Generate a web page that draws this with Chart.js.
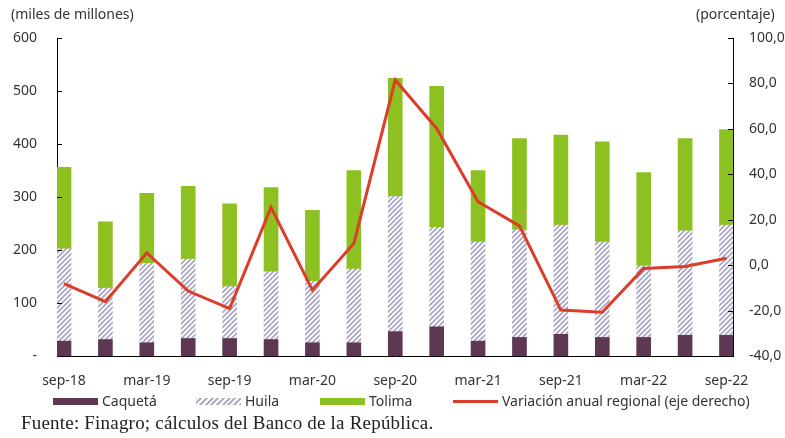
<!DOCTYPE html>
<html>
<head>
<meta charset="utf-8">
<script src="https://cdn.jsdelivr.net/npm/chart.js@4"></script>
<style>
  body { margin: 0; background: #fff; }
  #wrap { position: relative; width: 785px; height: 438px; font-family: "Noto Sans", sans-serif; color: #333; }
  .note { position: absolute; font-size: 14px; line-height: 18px; white-space: nowrap; }
  .leg { position: absolute; top: 392px; font-size: 14px; line-height: 18px; white-space: nowrap; display: flex; align-items: center; }
  .sw { display: inline-block; width: 45px; height: 7px; margin-right: 4px; }
  #foot { position: absolute; left: 21px; top: 412px; font-family: "Liberation Serif", serif; font-size: 19px; letter-spacing: 0.2px; color: #222; white-space: nowrap; }
</style>
</head>
<body>
<div id="wrap">
  <canvas id="chart" width="785" height="438"></canvas>
  <div class="note" style="left:11px; top:5px;">(miles de millones)</div>
  <div class="note" style="left:696px; top:5px;">(porcentaje)</div>
  <div class="leg" style="left:53px;"><span class="sw" style="background:#5e3752"></span>Caquetá</div>
  <div class="leg" style="left:196px;"><span class="sw" style="background:repeating-linear-gradient(-45deg,#b0adc6 0 2px,#fff 2px 4px)"></span>Huila</div>
  <div class="leg" style="left:320px;"><span class="sw" style="background:#8dc021"></span>Tolima</div>
  <div class="leg" style="left:453px;"><span class="sw" style="background:none;height:3px;background:#dc3c2a"></span>Variación anual regional (eje derecho)</div>
  <div id="foot">Fuente: Finagro; cálculos del Banco de la República.</div>
</div>
<script>
// Trimestres
const categories = ['sep-18', 'dic-18', 'mar-19', 'jun-19', 'sep-19', 'dic-19', 'mar-20', 'jun-20', 'sep-20',
    'dic-20', 'mar-21', 'jun-21', 'sep-21', 'dic-21', 'mar-22', 'jun-22', 'sep-22'];

// miles de millones
const caqueta = [28, 31, 25, 33, 33, 31, 25, 25, 46, 55, 28, 35, 41, 35, 35, 39, 39];
const huila = [174, 97, 150, 150, 98, 128, 116, 139, 255, 188, 187, 203, 206, 180, 135, 197, 208];
const tolima = [154, 125, 132, 137, 156, 159, 134, 186, 223, 266, 135, 172, 170, 189, 176, 174, 180];

// variación anual regional (%), eje derecho
const variacion = [-8.1, -16.1, 5.4, -11.4, -19.1, 25.4, -11, 9.5, 81.5, 60.2, 27.9, 17.3, -19.8, -20.7, -1.5, -0.6, 3];

const leftTicks = [0, 100, 200, 300, 400, 500, 600];

function makeHatch() {
    const c = document.createElement('canvas');
    c.width = 5; c.height = 5;
    const g = c.getContext('2d');
    g.fillStyle = '#fff';
    g.fillRect(0, 0, 5, 5);
    g.strokeStyle = '#aaa7c3';
    g.lineWidth = 1.8;
    g.beginPath();
    g.moveTo(-1, 6); g.lineTo(6, -1);
    g.moveTo(-1, 1); g.lineTo(1, -1);
    g.moveTo(4, 6); g.lineTo(6, 4);
    g.stroke();
    return g.createPattern(c, 'repeat');
}

const toPoints = arr => arr.map((v, i) => ({ x: i, y: v }));

// marcas de los ejes hacia adentro
const innerTicks = {
    id: 'innerTicks',
    afterDraw(chart) {
        const ctx = chart.ctx;
        const area = chart.chartArea;
        ctx.save();
        ctx.strokeStyle = '#000';
        ctx.lineWidth = 1;
        chart.scales.y.ticks.forEach(t => {
            const py = Math.round(chart.scales.y.getPixelForValue(t.value)) + 0.5;
            ctx.beginPath(); ctx.moveTo(area.left, py); ctx.lineTo(area.left + 5, py); ctx.stroke();
        });
        chart.scales.y1.ticks.forEach(t => {
            const py = Math.round(chart.scales.y1.getPixelForValue(t.value)) + 0.5;
            ctx.beginPath(); ctx.moveTo(area.right - 5, py); ctx.lineTo(area.right, py); ctx.stroke();
        });
        ctx.restore();
    }
};

const tickFont = { family: 'Noto Sans', size: 14 };

new Chart(document.getElementById('chart'), {
    data: {
        datasets: [
            { type: 'bar', label: 'Caquetá', data: toPoints(caqueta), backgroundColor: '#5e3752', yAxisID: 'y', order: 1 },
            { type: 'bar', label: 'Huila', data: toPoints(huila), backgroundColor: makeHatch(), yAxisID: 'y', order: 1 },
            { type: 'bar', label: 'Tolima', data: toPoints(tolima), backgroundColor: '#8dc021', yAxisID: 'y', order: 1 },
            {
                type: 'line', label: 'Variación anual regional (eje derecho)', data: toPoints(variacion),
                borderColor: '#dc3c2a', borderWidth: 3, pointRadius: 0, tension: 0, yAxisID: 'y1', order: 0
            }
        ]
    },
    options: {
        responsive: false,
        animation: false,
        barThickness: 14,
        layout: { padding: { top: 38, left: 0, right: 0, bottom: 0 } },
        plugins: { legend: { display: false }, tooltip: { enabled: false } },
        scales: {
            x: {
                type: 'linear',
                stacked: true,
                offset: false,
                min: -0.169,
                max: 16.157,
                grid: { display: false, drawTicks: false },
                border: { display: true, color: '#000', width: 1 },
                ticks: {
                    stepSize: 2,
                    includeBounds: false,
                    autoSkip: false,
                    maxRotation: 0,
                    padding: 17,
                    color: '#333',
                    font: tickFont,
                    callback: v => categories[v] ?? ''
                },
                afterFit: s => { s.height = 82; }
            },
            y: {
                position: 'left',
                stacked: true,
                min: 0,
                max: 600,
                grid: { display: false, drawTicks: false },
                border: { display: true, color: '#000', width: 1 },
                afterBuildTicks: s => { s.ticks = leftTicks.map(v => ({ value: v })); },
                ticks: {
                    padding: 20,
                    color: '#333',
                    font: tickFont,
                    callback: v => v === 0 ? '-' : v
                },
                afterFit: s => { s.width = 57; }
            },
            y1: {
                position: 'right',
                min: -40,
                max: 100,
                grid: { display: false, drawTicks: false },
                border: { display: true, color: '#000', width: 1 },
                ticks: {
                    stepSize: 20,
                    padding: 16,
                    color: '#333',
                    font: tickFont,
                    callback: v => v.toFixed(1).replace('.', ',')
                },
                afterFit: s => { s.width = 52; }
            }
        }
    },
    plugins: [innerTicks]
});
</script>
</body>
</html>
